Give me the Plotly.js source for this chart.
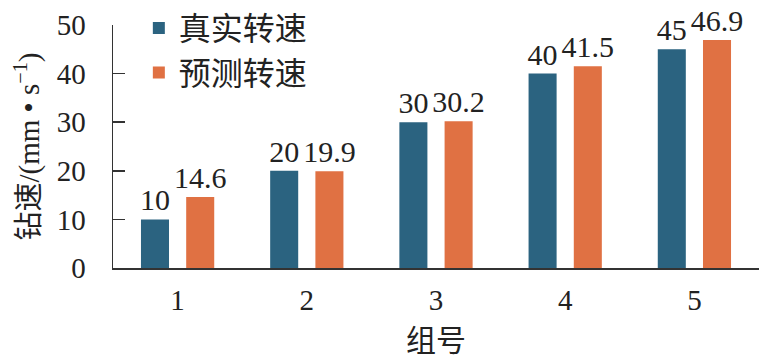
<!DOCTYPE html>
<html>
<head>
<meta charset="utf-8">
<script src="https://cdn.plot.ly/plotly-3.0.1.min.js"></script>
<style>html,body{margin:0;padding:0;background:#fff;}#chart{width:759px;height:357px;}</style>
</head>
<body>
<div id="chart"></div>
<script>
const groups = ['1', '2', '3', '4', '5'];
const realSpeed = [10, 20, 30, 40, 45];
const predSpeed = [14.6, 19.9, 30.2, 41.5, 46.9];
const seriesNames = ['真实转速', '预测转速'];
const yTicks = [0, 10, 20, 30, 40, 50];
const xTitle = '组号';
const yTitle = '钻速/(mm • s<sup>−1</sup>)';

const FONT = '"Liberation Serif", "Noto Sans CJK SC", serif';

const traces = [
  {type: 'bar', name: seriesNames[0], x: groups, y: realSpeed, legendgroup: 'a',
   marker: {color: '#2b6380'}, text: realSpeed.map(String), textposition: 'outside',
   textfont: {size: 30, color: '#222', family: FONT}, cliponaxis: false, constraintext: 'none'},
  {type: 'bar', name: seriesNames[1], x: groups, y: predSpeed, legendgroup: 'b',
   marker: {color: '#e07143'}, text: predSpeed.map(String), textposition: 'outside',
   textfont: {size: 30, color: '#222', family: FONT}, cliponaxis: false, constraintext: 'none'}
];

const layout = {
  width: 759, height: 357,
  margin: {l: 113, r: 0, t: 25, b: 89, autoexpand: false},
  paper_bgcolor: '#fff', plot_bgcolor: '#fff',
  font: {family: FONT, color: '#222', size: 28},
  barmode: 'group', bargap: 0.3, bargroupgap: 0.38,
  showlegend: true,
  legend: {x: 0.04, xanchor: 'left', y: 1.1, yanchor: 'top', bgcolor: 'rgba(0,0,0,0)',
           font: {size: 32, family: FONT}, tracegroupgap: 18, traceorder: 'normal'},
  xaxis: {type: 'category', range: [-0.5, 4.5], showline: true, linecolor: '#333', linewidth: 1.5,
          ticks: '', showgrid: false, zeroline: false, tickfont: {size: 29},
          ticklabelstandoff: 6, fixedrange: true,
          title: {text: xTitle, font: {size: 30}, standoff: 14}},
  yaxis: {range: [0, 50], tickvals: yTicks, showline: true, linecolor: '#333', linewidth: 1.5,
          ticks: 'inside', ticklen: 12, tickcolor: '#333', tickwidth: 1.5,
          showgrid: false, zeroline: false, tickfont: {size: 29}, ticklabelstandoff: 20,
          title: {text: yTitle, font: {size: 29}, standoff: 8}}
};

Plotly.newPlot('chart', traces, layout, {staticPlot: true, displayModeBar: false});
</script>
</body>
</html>
